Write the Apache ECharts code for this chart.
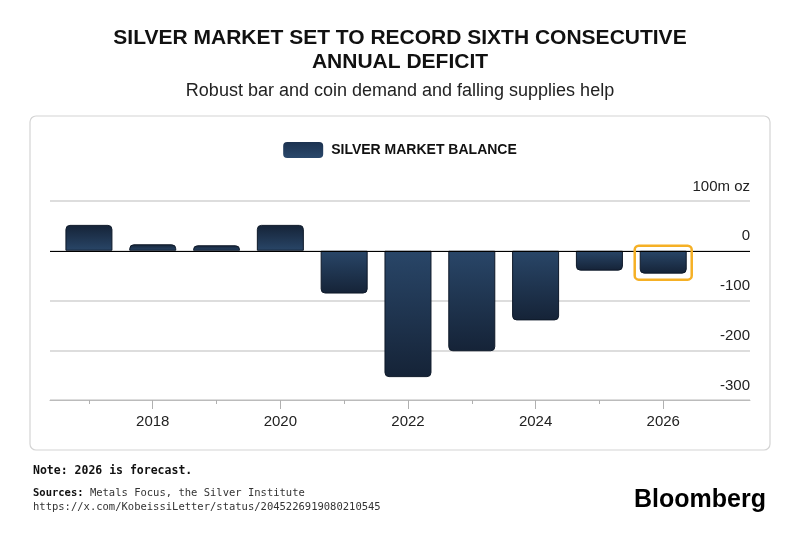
<!DOCTYPE html>
<html>
<head>
<meta charset="utf-8">
<script src="https://cdn.jsdelivr.net/npm/echarts@6/dist/echarts.min.js"></script>
<style>
  html, body { margin: 0; padding: 0; background: #fff; }
  #main { width: 800px; height: 535px; }
</style>
</head>
<body>
<div id="main"></div>
<script>
// Silver market balance, million oz (2026 is forecast)
const years = [2017, 2018, 2019, 2020, 2021, 2022, 2023, 2024, 2025, 2026];
const balance = [52, 13, 11, 52, -86, -254, -202, -140, -40, -46];
const labelYears = [2018, 2020, 2022, 2024, 2026];
const highlightYear = 2026;

const yTicks = { min: -300, max: 100, step: 100 };
const xRange = { min: 2016.39, max: 2027.36 };

const LIGHT = '#294668';
const DARK = '#152337';

function barGradient(v) {
    // lighter near the zero line, darker at the bar's end
    const top = v >= 0 ? DARK : LIGHT;
    const bottom = v >= 0 ? LIGHT : DARK;
    return new echarts.graphic.LinearGradient(0, 0, 0, 1, [
        { offset: 0, color: top },
        { offset: 1, color: bottom }
    ]);
}

const barData = years.map((y, i) => ({
    value: [y, balance[i]],
    itemStyle: {
        color: barGradient(balance[i]),
        borderRadius: balance[i] >= 0 ? [4, 4, 0, 0] : [0, 0, 4, 4]
    }
}));

const highlightData = years
    .map((y, i) => [y, balance[i]])
    .filter(d => d[0] === highlightYear);

const chart = echarts.init(document.getElementById('main'));

const FONT = '"Liberation Sans", Arial, sans-serif';
const MONO = '"DejaVu Sans Mono", "Liberation Mono", monospace';

chart.setOption({
    animation: false,
    textStyle: { fontFamily: FONT },
    legend: {
        top: 137,
        left: 'center',
        itemWidth: 40,
        itemHeight: 16,
        itemGap: 10,
        icon: 'roundRect',
        selectedMode: false,
        itemStyle: { borderWidth: 0 },
        textStyle: { fontSize: 14, fontWeight: 'bold', color: '#111', fontFamily: FONT, padding: [0, 0, 0, 3] },
        data: ['SILVER MARKET BALANCE']
    },
    grid: { left: 50, right: 50, top: 201, bottom: 135 },
    xAxis: [
        {
            type: 'value',
            min: xRange.min,
            max: xRange.max,
            axisLine: { show: true, onZero: false, lineStyle: { color: '#bbbbbb', width: 1 } },
            axisTick: { show: true, customValues: years, length: 4, lineStyle: { color: '#b0b0b0' } },
            axisLabel: { show: false },
            splitLine: { show: false }
        },
        {
            type: 'value',
            position: 'bottom',
            min: xRange.min,
            max: xRange.max,
            axisLine: { show: false, onZero: false },
            axisTick: { show: true, customValues: labelYears, length: 9, lineStyle: { color: '#b0b0b0' } },
            axisLabel: {
                customValues: labelYears,
                margin: 14,
                fontSize: 15,
                color: '#222',
                formatter: v => String(v)
            },
            splitLine: { show: false }
        }
    ],
    yAxis: {
        type: 'value',
        position: 'right',
        min: yTicks.min,
        max: yTicks.max,
        interval: yTicks.step,
        axisLine: { show: false },
        axisTick: { show: false },
        axisLabel: {
            inside: true,
            margin: 0,
            align: 'right',
            verticalAlign: 'bottom',
            padding: [0, 0, 7, 0],
            fontSize: 15,
            color: '#222',
            formatter: v => (v === yTicks.max ? v + 'm oz' : String(v))
        },
        splitLine: { show: true, lineStyle: { color: '#d2d2d2', width: 1.5 } }
    },
    series: [
        {
            name: 'SILVER MARKET BALANCE',
            type: 'bar',
            barWidth: 47,
            data: barData,
            itemStyle: {
                color: new echarts.graphic.LinearGradient(0, 0, 0, 1, [
                    { offset: 0, color: '#1c3250' },
                    { offset: 1, color: '#2a486b' }
                ]),
                borderColor: '#0e1929',
                borderWidth: 1
            },
            markLine: {
                silent: true,
                symbol: 'none',
                label: { show: false },
                lineStyle: { color: '#000', width: 1.2, type: 'solid' },
                data: [{ yAxis: 0 }]
            },
            z: 2
        },
        {
            name: 'forecast',
            type: 'custom',
            data: highlightData,
            z: 5,
            renderItem: function (params, api) {
                const zero = api.coord([api.value(0), 0]);
                const end = api.coord([api.value(0), api.value(1)]);
                const half = 47 / 2 + 5;
                return {
                    type: 'rect',
                    shape: { x: zero[0] - half, y: zero[1] - 5, width: half * 2, height: end[1] - zero[1] + 11, r: 4 },
                    style: { fill: 'none', stroke: '#f5b025', lineWidth: 2.5 }
                };
            }
        }
    ],
    graphic: [
        {
            type: 'text',
            x: 400,
            y: 26,
            style: {
                text: 'SILVER MARKET SET TO RECORD SIXTH CONSECUTIVE\nANNUAL DEFICIT',
                font: 'bold 21px ' + FONT,
                lineHeight: 24,
                align: 'center',
                fill: '#111'
            }
        },
        {
            type: 'text',
            x: 400,
            y: 82,
            style: {
                text: 'Robust bar and coin demand and falling supplies help',
                font: '18px ' + FONT,
                align: 'center',
                fill: '#222'
            }
        },
        {
            type: 'rect',
            shape: { x: 30, y: 116, width: 740, height: 334, r: 6 },
            style: { fill: 'none', stroke: '#d4d4d4', lineWidth: 1.2 },
            silent: true,
            z: -1
        },
        {
            type: 'text',
            left: 33,
            top: 465,
            style: { text: 'Note: 2026 is forecast.', font: 'bold 11.5px ' + MONO, fill: '#111' }
        },
        {
            type: 'text',
            left: 33,
            top: 488,
            style: {
                text: '{b|Sources:} Metals Focus, the Silver Institute',
                font: '10.5px ' + MONO,
                fill: '#333',
                rich: { b: { fontWeight: 'bold', fontFamily: MONO, fontSize: 10.5, fill: '#111' } }
            }
        },
        {
            type: 'text',
            left: 33,
            top: 502,
            style: { text: 'https://x.com/KobeissiLetter/status/2045226919080210545', font: '10.5px ' + MONO, fill: '#333' }
        },
        {
            type: 'text',
            right: 34,
            top: 488,
            style: { text: 'Bloomberg', font: 'bold 25px ' + FONT, fill: '#000' }
        }
    ]
});

window.addEventListener('resize', () => chart.resize());
</script>
</body>
</html>
